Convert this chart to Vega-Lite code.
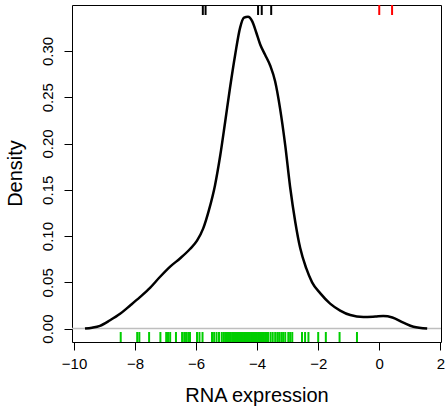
{
  "$schema": "https://vega.github.io/schema/vega-lite/v6.json",
  "width": 369,
  "height": 337,
  "autosize": "none",
  "padding": {"left": 72, "top": 5, "right": 5, "bottom": 70},
  "config": {
    "view": {"stroke": "black", "strokeWidth": 1},
    "font": "Liberation Sans",
    "axis": {"grid": false, "labelColor": "black", "titleColor": "black", "tickColor": "black", "titleFontWeight": "normal"}
  },
  "datasets": {
    "curve": [
      {"x": -9.64, "d": 0.000}, {"x": -9.41, "d": 0.001}, {"x": -9.15, "d": 0.003}, {"x": -8.82, "d": 0.009},
      {"x": -8.49, "d": 0.016}, {"x": -8.16, "d": 0.025}, {"x": -7.84, "d": 0.034}, {"x": -7.51, "d": 0.044},
      {"x": -7.18, "d": 0.056}, {"x": -6.85, "d": 0.067}, {"x": -6.52, "d": 0.076}, {"x": -6.20, "d": 0.086},
      {"x": -5.97, "d": 0.095}, {"x": -5.77, "d": 0.108}, {"x": -5.58, "d": 0.128}, {"x": -5.38, "d": 0.155},
      {"x": -5.21, "d": 0.187}, {"x": -5.05, "d": 0.223}, {"x": -4.89, "d": 0.260}, {"x": -4.72, "d": 0.296},
      {"x": -4.56, "d": 0.325}, {"x": -4.43, "d": 0.336}, {"x": -4.30, "d": 0.337}, {"x": -4.16, "d": 0.332},
      {"x": -4.03, "d": 0.320}, {"x": -3.90, "d": 0.307}, {"x": -3.74, "d": 0.296}, {"x": -3.57, "d": 0.284},
      {"x": -3.41, "d": 0.267}, {"x": -3.25, "d": 0.238}, {"x": -3.08, "d": 0.198}, {"x": -2.92, "d": 0.153},
      {"x": -2.75, "d": 0.115}, {"x": -2.59, "d": 0.087}, {"x": -2.39, "d": 0.065}, {"x": -2.20, "d": 0.050},
      {"x": -1.93, "d": 0.038}, {"x": -1.61, "d": 0.027}, {"x": -1.28, "d": 0.0195}, {"x": -0.95, "d": 0.0146},
      {"x": -0.52, "d": 0.0125}, {"x": -0.13, "d": 0.013}, {"x": 0.13, "d": 0.0135}, {"x": 0.43, "d": 0.012},
      {"x": 0.79, "d": 0.0065}, {"x": 1.12, "d": 0.002}, {"x": 1.57, "d": 0.000}
    ],
    "rug": [
      {"x": -8.47}, {"x": -7.93}, {"x": -7.86}, {"x": -7.54}, {"x": -7.17}, {"x": -6.98}, {"x": -6.92}, {"x": -6.85},
      {"x": -6.66}, {"x": -6.46}, {"x": -6.39}, {"x": -6.33}, {"x": -6.26}, {"x": -6.20}, {"x": -5.97}, {"x": -5.89},
      {"x": -5.79}, {"x": -5.48}, {"x": -5.41}, {"x": -5.33}, {"x": -5.25}, {"x": -5.16}, {"x": -5.10},
      {"x": -5.05}, {"x": -5.01}, {"x": -4.97}, {"x": -4.94}, {"x": -4.90}, {"x": -4.86}, {"x": -4.81}, {"x": -4.78},
      {"x": -4.74}, {"x": -4.70}, {"x": -4.66}, {"x": -4.62}, {"x": -4.59}, {"x": -4.55}, {"x": -4.51}, {"x": -4.47},
      {"x": -4.43}, {"x": -4.39}, {"x": -4.35}, {"x": -4.31}, {"x": -4.28}, {"x": -4.24}, {"x": -4.20}, {"x": -4.16},
      {"x": -4.12}, {"x": -4.08}, {"x": -4.05}, {"x": -4.01}, {"x": -3.97}, {"x": -3.93}, {"x": -3.89}, {"x": -3.85},
      {"x": -3.82}, {"x": -3.78}, {"x": -3.74}, {"x": -3.70}, {"x": -3.66}, {"x": -3.64},
      {"x": -3.56}, {"x": -3.49}, {"x": -3.41}, {"x": -3.34}, {"x": -3.28}, {"x": -3.21}, {"x": -3.15}, {"x": -3.08},
      {"x": -2.98}, {"x": -2.92}, {"x": -2.85}, {"x": -2.53}, {"x": -2.43}, {"x": -2.32}, {"x": -2.00}, {"x": -1.75},
      {"x": -1.30}, {"x": -0.73}
    ],
    "top": [
      {"x": -5.78, "g": "a"}, {"x": -5.69, "g": "a"}, {"x": -3.97, "g": "a"}, {"x": -3.85, "g": "a"}, {"x": -3.54, "g": "a"},
      {"x": 0.0, "g": "b"}, {"x": 0.42, "g": "b"}
    ]
  },
  "layer": [
    {
      "data": {"values": [{"z": 0}]},
      "mark": {"type": "rule", "color": "#BEBEBE", "strokeWidth": 1.5},
      "encoding": {
        "y": {"field": "z", "type": "quantitative"}
      }
    },
    {
      "data": {"name": "curve"},
      "mark": {"type": "line", "color": "black", "strokeWidth": 2.5, "interpolate": "monotone"},
      "encoding": {
        "x": {
          "field": "x", "type": "quantitative",
          "scale": {"domain": [-10.066, 2.023], "nice": false, "zero": false},
          "axis": {
            "values": [-10, -8, -6, -4, -2, 0, 2], "title": "RNA expression", "domain": false,
            "tickSize": 8, "labelFontSize": 15, "labelPadding": 6, "labelFlush": false,
            "titleFontSize": 20, "titleY": 53, "titleBaseline": "middle"
          }
        },
        "y": {
          "field": "d", "type": "quantitative",
          "scale": {"domain": [-0.0145, 0.3497], "nice": false, "zero": false},
          "axis": {
            "values": [0, 0.05, 0.1, 0.15, 0.2, 0.25, 0.3], "format": ".2f", "title": "Density", "domain": false,
            "tickSize": 8, "labelFontSize": 15, "labelAngle": -90, "labelAlign": "center", "labelBaseline": "bottom",
            "labelPadding": 9, "titleFontSize": 20, "titleAngle": -90, "titleX": -57, "titleY": 168,
            "titleBaseline": "middle", "titleAlign": "center"
          }
        }
      }
    },
    {
      "data": {"name": "rug"},
      "mark": {"type": "rule", "color": "#00CD00", "strokeWidth": 2},
      "encoding": {
        "x": {"field": "x", "type": "quantitative"},
        "y": {"datum": -0.0145, "type": "quantitative"},
        "y2": {"datum": -0.0037}
      }
    },
    {
      "data": {"name": "top"},
      "mark": {"type": "rule", "strokeWidth": 2},
      "encoding": {
        "x": {"field": "x", "type": "quantitative"},
        "y": {"datum": 0.3497, "type": "quantitative"},
        "y2": {"datum": 0.3389},
        "color": {"field": "g", "type": "nominal", "scale": {"domain": ["a", "b"], "range": ["black", "#FF0000"]}, "legend": null}
      }
    }
  ]
}
